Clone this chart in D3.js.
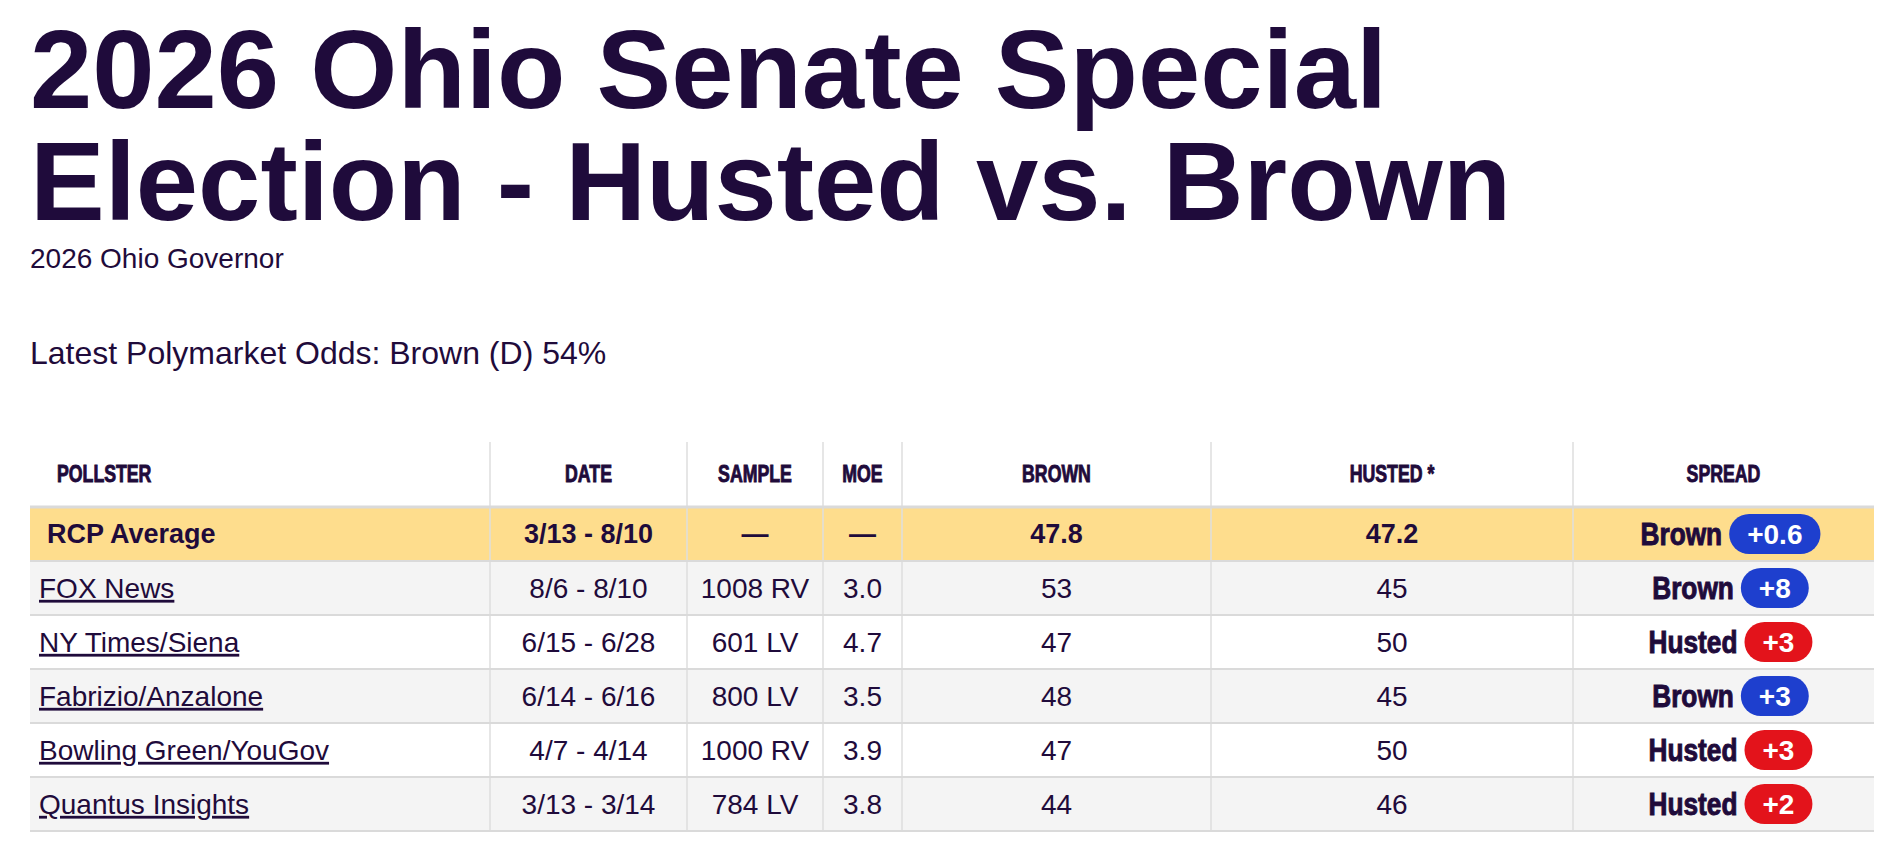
<!DOCTYPE html>
<html>
<head>
<meta charset="utf-8">
<script src="https://cdn.jsdelivr.net/npm/d3@7"></script>
<style>
  html, body { margin: 0; padding: 0; background: #fff; }
  svg { display: block; }
  .sans { font-family: 'Liberation Sans', Arial, Helvetica, sans-serif; }
</style>
</head>
<body>
<div id="chart"></div>
<script>
// data
const titleLines = ['2026 Ohio Senate Special', 'Election - Husted vs. Brown']
const subtitle = '2026 Ohio Governor'
const oddsText = 'Latest Polymarket Odds: Brown (D) 54%'

const columns = ['POLLSTER', 'DATE', 'SAMPLE', 'MOE', 'BROWN', 'HUSTED *', 'SPREAD']
const pollsters = ['RCP Average', 'FOX News', 'NY Times/Siena', 'Fabrizio/Anzalone', 'Bowling Green/YouGov', 'Quantus Insights']
const dates = ['3/13 - 8/10', '8/6 - 8/10', '6/15 - 6/28', '6/14 - 6/16', '4/7 - 4/14', '3/13 - 3/14']
const samples = ['\u2014', '1008 RV', '601 LV', '800 LV', '1000 RV', '784 LV']
const moes = ['\u2014', '3.0', '4.7', '3.5', '3.9', '3.8']
const brownVals = [47.8, 53, 47, 48, 47, 44]
const hustedVals = [47.2, 45, 50, 45, 50, 46]

// layout
const width = 1889,
  height = 857
const ink = '#1f0b3b'
const colEdges = [30, 490, 687, 823, 902, 1211, 1573, 1874]
const headerTop = 442,
  headerBottom = 507,
  tableBottom = 831
// no condensed face is installed, so squeeze the bold face horizontally
const headSquash = 0.77,
  labelSquash = 0.82

let svg = d3
  .select('#chart')
  .append('svg')
  .attr('width', width)
  .attr('height', height)

// titles
svg
  .append('g')
  .selectAll('text')
  .data(titleLines)
  .enter()
  .append('text')
  .attr('class', 'sans')
  .attr('x', 30)
  .attr('y', (d, i) => 108 + i * 112)
  .style('font-size', '112px')
  .style('font-weight', 700)
  .style('fill', ink)
  .text(d => d)

svg
  .append('text')
  .attr('class', 'sans')
  .attr('x', 30)
  .attr('y', 268)
  .style('font-size', '28px')
  .style('fill', ink)
  .text(subtitle)

svg
  .append('text')
  .attr('class', 'sans')
  .attr('x', 30)
  .attr('y', 364)
  .style('font-size', '32px')
  .style('fill', ink)
  .text(oddsText)

// table rows
let rows = pollsters.map((p, i) => ({
  pollster: p,
  date: dates[i],
  sample: samples[i],
  moe: moes[i],
  brown: brownVals[i],
  husted: hustedVals[i],
  avg: i === 0,
}))

let y = d3
  .scaleBand()
  .domain(d3.range(rows.length))
  .range([headerBottom, tableBottom])

let colMid = i => (colEdges[i] + colEdges[i + 1]) / 2

let table = svg.append('g').classed('poll-table', true)

// row backgrounds
table
  .selectAll('rect.row-bg')
  .data(rows)
  .enter()
  .append('rect')
  .classed('row-bg', true)
  .attr('x', colEdges[0])
  .attr('y', (d, i) => y(i))
  .attr('width', colEdges[colEdges.length - 1] - colEdges[0])
  .attr('height', y.bandwidth())
  .style('fill', (d, i) => (d.avg ? '#fedd8d' : i % 2 ? '#f4f4f4' : '#ffffff'))

// column separators
table
  .selectAll('line.col-sep')
  .data(colEdges.slice(1, -1))
  .enter()
  .append('line')
  .classed('col-sep', true)
  .attr('x1', d => d)
  .attr('x2', d => d)
  .attr('y1', headerTop)
  .attr('y2', tableBottom)
  .style('stroke', '#dedede')
  .style('stroke-width', 1.5)

// row borders
table
  .selectAll('line.row-sep')
  .data(d3.range(rows.length + 1))
  .enter()
  .append('line')
  .classed('row-sep', true)
  .attr('x1', colEdges[0])
  .attr('x2', colEdges[colEdges.length - 1])
  .attr('y1', i => (i < rows.length ? y(i) : tableBottom))
  .attr('y2', i => (i < rows.length ? y(i) : tableBottom))
  .style('stroke', '#dadada')
  .style('stroke-width', (d, i) => (i === 0 ? 3 : 2))

// header labels
table
  .selectAll('g.col-head')
  .data(columns)
  .enter()
  .append('g')
  .classed('col-head', true)
  .attr('transform', (d, i) => 'translate(' + (i === 0 ? 57 : colMid(i)) + ',482) scale(' + headSquash + ',1)')
  .append('text')
  .attr('class', 'sans')
  .attr('text-anchor', (d, i) => (i === 0 ? 'start' : 'middle'))
  .style('font-size', '23px')
  .style('font-weight', 700)
  .style('fill', ink)
  .style('stroke', ink)
  .style('stroke-width', 0.9)
  .text(d => d)

let rowG = table
  .selectAll('g.poll-row')
  .data(rows)
  .enter()
  .append('g')
  .classed('poll-row', true)
  .attr('transform', (d, i) => 'translate(0,' + (y(i) + y.bandwidth() / 2) + ')')

// pollster name
rowG
  .append('text')
  .attr('class', 'sans')
  .attr('x', d => (d.avg ? 47 : 39))
  .attr('dy', '0.35em')
  .style('font-size', d => (d.avg ? '27px' : '28px'))
  .style('font-weight', d => (d.avg ? 700 : 400))
  .style('text-decoration', d => (d.avg ? 'none' : 'underline'))
  .style('fill', ink)
  .text(d => d.pollster)

// centered cells
let cellKeys = ['date', 'sample', 'moe', 'brown', 'husted']
cellKeys.forEach((key, k) => {
  rowG
    .append('text')
    .attr('class', 'sans')
    .attr('x', colMid(k + 1))
    .attr('dy', '0.35em')
    .attr('text-anchor', 'middle')
    .style('font-size', d => (d.avg ? '27px' : '28px'))
    .style('font-weight', d => (d.avg ? 700 : 400))
    .style('fill', ink)
    .text(d => d[key])
})

// spread cell
let fmtSpread = v => {
  let r = Math.round(Math.abs(v) * 10) / 10
  return '+' + (Number.isInteger(r) ? r : r.toFixed(1))
}

rowG.each(function(d) {
  let g = d3.select(this).append('g').classed('spread', true)
  let diff = d.brown - d.husted
  let leader = diff > 0 ? 'Brown' : 'Husted'
  let badgeColor = diff > 0 ? '#1e3fce' : '#e3131b'

  let labelG = g.append('g')
  let label = labelG
    .append('text')
    .attr('class', 'sans')
    .attr('dy', '0.35em')
    .style('font-size', '32px')
    .style('font-weight', 700)
    .style('fill', ink)
    .style('stroke', ink)
    .style('stroke-width', 1)
    .text(leader)
  let badge = g.append('rect')
  let badgeText = g
    .append('text')
    .attr('class', 'sans')
    .attr('dy', '0.35em')
    .attr('text-anchor', 'middle')
    .style('font-size', '28px')
    .style('font-weight', 700)
    .style('fill', '#ffffff')
    .text(fmtSpread(diff))

  let labelW = label.node().getComputedTextLength() * labelSquash
  let textW = badgeText.node().getComputedTextLength()
  let badgeW = textW + 36,
    badgeH = 40,
    gap = 7
  let total = labelW + gap + badgeW
  let start = colMid(6) + 7 - total / 2

  labelG.attr('transform', 'translate(' + start + ',0) scale(' + labelSquash + ',1)')
  badge
    .attr('x', start + labelW + gap)
    .attr('y', -badgeH / 2)
    .attr('width', badgeW)
    .attr('height', badgeH)
    .attr('rx', badgeH / 2)
    .style('fill', badgeColor)
  badgeText.attr('x', start + labelW + gap + badgeW / 2)
})
</script>
</body>
</html>
